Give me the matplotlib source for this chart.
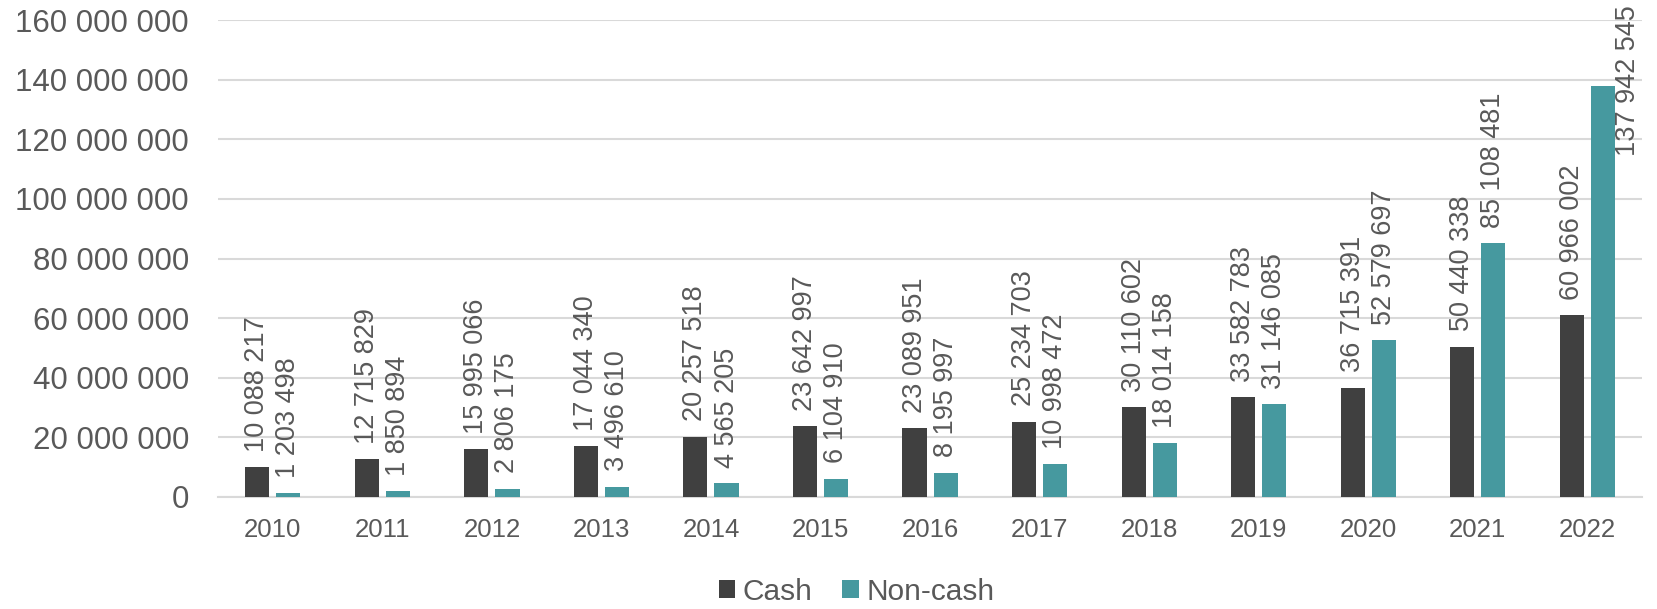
import matplotlib.pyplot as plt
import numpy as np

years = ["2010", "2011", "2012", "2013", "2014", "2015", "2016",
         "2017", "2018", "2019", "2020", "2021", "2022"]
cash = [10088217, 12715829, 15995066, 17044340, 20257518, 23642997, 23089951,
        25234703, 30110602, 33582783, 36715391, 50440338, 60966002]
non_cash = [1203498, 1850894, 2806175, 3496610, 4565205, 6104910, 8195997,
            10998472, 18014158, 31146085, 52579697, 85108481, 137942545]

plt.rcParams['font.family'] = ['Liberation Sans', 'DejaVu Sans']
txt = '#595959'

def fmt(v):
    return f"{v:,}".replace(",", " ")

fig = plt.figure(figsize=(16.57, 6.09), dpi=100)
ax = fig.add_axes([0.1316, 0.184, 0.991 - 0.1316, 0.967 - 0.184])

x = np.arange(len(years))
w = 0.22
off = 0.142
ax.bar(x - off, cash, w, color='#404040', label='Cash', zorder=3)
ax.bar(x + off, non_cash, w, color='#46999F', label='Non-cash', zorder=3)

ax.set_xlim(-0.5, len(years) - 0.5)
ax.set_ylim(0, 160000000)
ax.set_yticks(np.arange(0, 160000001, 20000000))
ax.set_yticklabels([fmt(v) for v in range(0, 160000001, 20000000)])
ax.set_xticks(x)
ax.set_xticklabels(years)
ax.tick_params(axis='y', length=0, pad=21, labelsize=22.5, labelcolor=txt)
ax.tick_params(axis='x', length=0, pad=15, labelsize=18.5, labelcolor=txt)
ax.grid(axis='y', color='#D9D9D9', linewidth=1.5, zorder=0)
for s in ['top', 'right', 'left']:
    ax.spines[s].set_visible(False)
ax.spines['bottom'].set_color('#D9D9D9')
ax.spines['bottom'].set_linewidth(1.5)

for i in range(len(years)):
    ax.annotate(fmt(cash[i]), (x[i] - off, cash[i]), xytext=(0, 11),
                textcoords='offset points', rotation=90, ha='center', va='bottom',
                fontsize=19.5, color=txt)
    if non_cash[i] > 100000000:
        # too tall for the plot area, so the label sits beside the bar top
        ax.annotate(fmt(non_cash[i]), (x[i] + off, 160000000), xytext=(18, 11),
                    textcoords='offset points', rotation=90, ha='center', va='top',
                    fontsize=19.5, color=txt, annotation_clip=False)
    else:
        ax.annotate(fmt(non_cash[i]), (x[i] + off, non_cash[i]), xytext=(0, 11),
                    textcoords='offset points', rotation=90, ha='center', va='bottom',
                    fontsize=19.5, color=txt)

fig.legend(loc='center', bbox_to_anchor=(0.517, 0.028), ncol=2, frameon=False,
           fontsize=21.5, labelcolor=txt, handlelength=0.55, handleheight=0.55,
           handletextpad=0.25, columnspacing=1.0)

fig.savefig('out.png', dpi=100)
